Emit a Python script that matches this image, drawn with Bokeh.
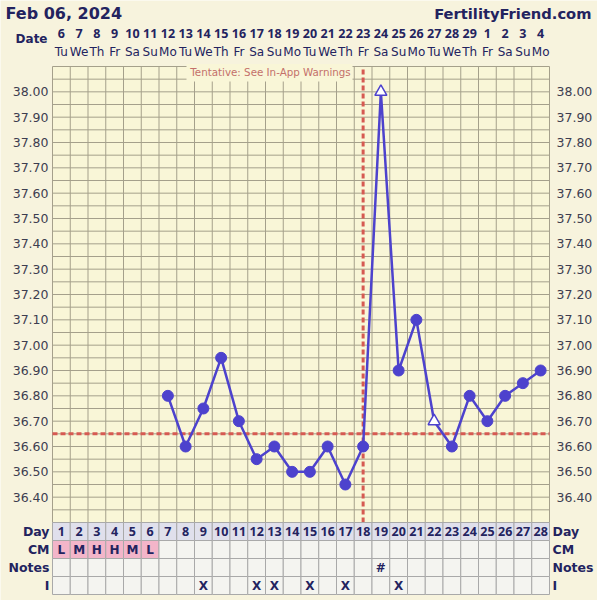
from bokeh.plotting import figure
from bokeh.models import Range1d
from bokeh.core.properties import value
from bokeh.embed import file_html
from bokeh.resources import INLINE

# ---------------- data ----------------
days = list(range(1, 29))
date_labels = ["6", "7", "8", "9", "10", "11", "12", "13", "14", "15", "16", "17", "18", "19",
               "20", "21", "22", "23", "24", "25", "26", "27", "28", "29", "1", "2", "3", "4"]
weekday_labels = ["Tu", "We", "Th", "Fr", "Sa", "Su", "Mo"] * 4
temp_days = [7, 8, 9, 10, 11, 12, 13, 14, 15, 16, 17, 18, 19, 20, 21, 22, 23, 24, 25, 26, 27, 28]
temps = [36.80, 36.60, 36.75, 36.95, 36.70, 36.55, 36.60, 36.50, 36.50, 36.60, 36.45, 36.60,
         38.00, 36.90, 37.10, 36.70, 36.60, 36.80, 36.70, 36.80, 36.85, 36.90]
discarded_days = [19, 22]
coverline = 36.65
ovulation_day = 18
cm_days = [1, 2, 3, 4, 5, 6]
cm_codes = ["L", "M", "H", "H", "M", "L"]
note_days = [19]
note_marks = ["#"]
i_days = [9, 12, 13, 15, 17, 20]
temp_ticks = [36.40, 36.50, 36.60, 36.70, 36.80, 36.90, 37.00, 37.10, 37.20, 37.30,
              37.40, 37.50, 37.60, 37.70, 37.80, 37.90, 38.00]
row_names = ["Day", "CM", "Notes", "I"]
title_text = "Feb 06, 2024"
site_text = "FertilityFriend.com"
date_head = "Date"
warning_text = "Tentative: See In-App Warnings"

# ---------------- layout (canvas pixel helpers) ----------------
W, H = 597, 600
FRAME_L, FRAME_R = 52, 549        # chart grid left/right in px
FRAME_T = 66                      # chart grid top in px
TOP_T, BOT_T = 38.10, 36.30
CHART_PX = 456
PX_PER = CHART_PX / (TOP_T - BOT_T)
ROW_H = 18 / PX_PER
COLW = (FRAME_R - FRAME_L) / 28.0

def xd(px):
    return 0.5 + (px - FRAME_L) / COLW

def yd(py):
    return TOP_T - (py - FRAME_T) / PX_PER

X_START, X_END = xd(0), xd(W)
Y_END, Y_START = yd(0), yd(H)

OUTER = "#f7f3dd"
CHART_BG = "#f9f6d7"
GRID = "#a5a08b"
NAVY = "#23235f"
BLUE = "#4d42cd"
RED = "#d65a52"
CELL = "#f4f4f0"
DAYCELL = "#e0e0ec"
PINK = "#f3b5c9"
CELL_LINE = "#a9a9a9"
FONT = value("DejaVu Sans")
NUMFONT = value("Noto Sans")

p = figure(width=W, height=H, output_backend="svg", toolbar_location=None,
           x_range=Range1d(X_START, X_END), y_range=Range1d(Y_START, Y_END),
           x_axis_type=None, y_axis_type=None, min_border=0,
           background_fill_color=OUTER, border_fill_color=OUTER, outline_line_color=None)

# chart area background
p.quad(left=[0.5], right=[28.5], top=[TOP_T], bottom=[BOT_T], fill_color=CHART_BG, line_color=None)

# grid lines
hticks = [round(BOT_T + 0.05 * i, 2) for i in range(37)]
p.segment(x0=[0.5] * len(hticks), x1=[28.5] * len(hticks), y0=hticks, y1=hticks,
          line_color=GRID, line_width=1)
vticks = [d - 0.5 for d in days] + [28.5]
p.segment(x0=vticks, x1=vticks, y0=[BOT_T] * len(vticks), y1=[TOP_T] * len(vticks),
          line_color=GRID, line_width=1)

# tentative warning box covering grid
p.quad(left=[xd(186)], right=[xd(352)], top=[TOP_T + 0.01], bottom=[yd(81)],
       fill_color=CHART_BG, line_color=None)
p.text(x=[xd(270)], y=[yd(71)], text=[warning_text], text_font=FONT, text_font_size="10.3px",
       text_color="#c4706a", text_align="center", text_baseline="middle")

# coverline and ovulation line
p.segment(x0=[0.5], x1=[28.5], y0=[coverline], y1=[coverline],
          line_color=RED, line_width=3, line_dash="5 3")
p.segment(x0=[ovulation_day], x1=[ovulation_day], y0=[BOT_T], y1=[TOP_T],
          line_color=RED, line_width=3, line_dash="5 3")

# temperature line
p.line(x=temp_days, y=temps, line_color=BLUE, line_width=2.5)
kept_x = [d for d in temp_days if d not in discarded_days]
kept_y = [t for d, t in zip(temp_days, temps) if d not in discarded_days]
disc_x = [d for d in temp_days if d in discarded_days]
disc_y = [t for d, t in zip(temp_days, temps) if d in discarded_days]
p.scatter(x=kept_x, y=kept_y, size=11, fill_color=BLUE, line_color=BLUE)
p.scatter(x=disc_x, y=disc_y, marker="triangle", size=12, fill_color="white",
          line_color=BLUE, line_width=1.5)

# temperature tick labels, both sides
tick_text = ["%.2f" % t for t in temp_ticks]
p.text(x=[xd(48)] * len(temp_ticks), y=temp_ticks, text=tick_text, text_font=FONT,
       text_font_size="12.5px", text_color="#3d3d50", text_align="right", text_baseline="middle")
p.text(x=[xd(556)] * len(temp_ticks), y=temp_ticks, text=tick_text, text_font=FONT,
       text_font_size="12.5px", text_color="#3d3d50", text_align="left", text_baseline="middle")

# table
def row_top(r):
    return BOT_T - r * ROW_H

def row_mid(r):
    return row_top(r) - ROW_H / 2

cm_set = dict(zip(cm_days, cm_codes))
for r in range(4):
    if r == 0:
        colors = [DAYCELL] * len(days)
    elif r == 1:
        colors = [PINK if d in cm_set else CELL for d in days]
    else:
        colors = [CELL] * len(days)
    p.quad(left=[d - 0.5 for d in days], right=[d + 0.5 for d in days],
           top=[row_top(r)] * len(days), bottom=[row_top(r + 1)] * len(days),
           fill_color=colors, line_color=CELL_LINE, line_width=1)

bold = dict(text_font_style="bold", text_color=NAVY, text_baseline="middle")
p.text(x=days, y=[row_mid(0)] * len(days), text=[str(d) for d in days], text_font=NUMFONT,
       text_font_size="12.5px", text_align="center", **bold)
p.text(x=cm_days, y=[row_mid(1)] * len(cm_days), text=cm_codes, text_font=FONT,
       text_font_size="12px", text_align="center", **bold)
p.text(x=note_days, y=[row_mid(2)] * len(note_days), text=note_marks, text_font=FONT,
       text_font_size="12px", text_align="center", **bold)
p.text(x=i_days, y=[row_mid(3)] * len(i_days), text=["X"] * len(i_days), text_font=FONT,
       text_font_size="12px", text_align="center", **bold)

# row labels left / right
row_y = [row_mid(r) for r in range(4)]
p.text(x=[xd(49)] * 4, y=row_y, text=row_names, text_font=FONT, text_font_size="12.5px",
       text_align="right", **bold)
p.text(x=[xd(552)] * 4, y=row_y, text=row_names, text_font=FONT, text_font_size="12.5px",
       text_align="left", **bold)

# date header
p.text(x=days, y=[yd(33)] * len(days), text=date_labels, text_font=NUMFONT,
       text_font_size="12.5px", text_align="center", **bold)
p.text(x=days, y=[yd(51)] * len(days), text=weekday_labels, text_font=FONT,
       text_font_size="12px", text_color=NAVY, text_align="center", text_baseline="middle")
p.text(x=[xd(47)], y=[yd(38)], text=[date_head], text_font=FONT, text_font_size="12px",
       text_align="right", **bold)

# titles
p.text(x=[xd(5)], y=[yd(13)], text=[title_text], text_font=FONT, text_font_size="16px",
       text_align="left", **bold)
p.text(x=[xd(591)], y=[yd(13)], text=[site_text], text_font=FONT, text_font_size="14.7px",
       text_align="right", **bold)

open("out.html", "w").write(file_html(p, INLINE))
